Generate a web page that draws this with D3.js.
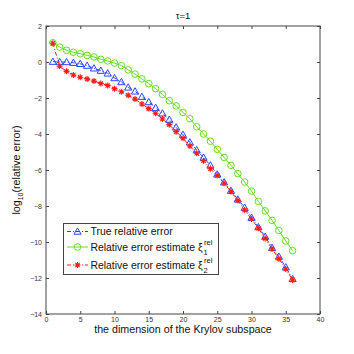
<!DOCTYPE html>
<html><head><meta charset="utf-8">
<script src="https://cdn.jsdelivr.net/npm/d3@7"></script>
<style>body{margin:0;background:#fff}svg{display:block}text{font-family:"Liberation Sans",Arial,sans-serif}</style>
</head><body>
<svg id="c" width="354" height="354"></svg>
<script>
const dims = d3.range(1, 37);
const trueErr = [0.02,0.0,0.0,-0.04,-0.1,-0.2,-0.35,-0.48,-0.63,-0.89,-1.11,-1.41,-1.63,-1.93,-2.22,-2.54,-2.85,-3.2,-3.63,-4.04,-4.46,-4.89,-5.31,-5.74,-6.24,-6.68,-7.15,-7.63,-8.09,-8.65,-9.17,-9.7,-10.32,-10.81,-11.4,-12.05];
const est1 = [1.07,0.83,0.65,0.54,0.46,0.37,0.28,0.15,0.06,-0.06,-0.2,-0.44,-0.67,-0.94,-1.2,-1.48,-1.8,-2.15,-2.44,-2.8,-3.15,-3.6,-4.0,-4.4,-4.85,-5.3,-5.74,-6.2,-6.67,-7.17,-7.74,-8.27,-8.8,-9.36,-9.94,-10.48];
const est2 = [1.04,-0.24,-0.52,-0.72,-0.85,-0.94,-1.06,-1.19,-1.3,-1.48,-1.65,-1.85,-2.06,-2.33,-2.59,-2.85,-3.17,-3.48,-3.87,-4.24,-4.67,-5.07,-5.48,-5.93,-6.31,-6.74,-7.2,-7.7,-8.22,-8.72,-9.24,-9.8,-10.39,-10.93,-11.5,-12.11];
const xTicks = [0,5,10,15,20,25,30,35,40];
const yTicks = [2,0,-2,-4,-6,-8,-10,-12,-14];
const labels = ["True relative error","Relative error estimate ξ","Relative error estimate ξ"];
const subs = [null,"1","2"];

const svg = d3.select("#c");
const L=46,R=320,T=26,B=314;
const x = d3.scaleLinear().domain([0,40]).range([L,R]);
const y = d3.scaleLinear().domain([-14,2]).range([B,T]);
const axc="#444";
const blue="#2a45ff", green="#66dd22", red="#ff1a1a";

svg.append("rect").attr("x",L).attr("y",T).attr("width",R-L).attr("height",B-T)
  .attr("fill","none").attr("stroke",axc).attr("stroke-width",1);

const tl=3;
const gx=svg.append("g").attr("transform",`translate(0,${B})`)
  .call(d3.axisBottom(x).tickValues(xTicks).tickSizeInner(-tl).tickSizeOuter(0).tickPadding(4));
const gxt=svg.append("g").attr("transform",`translate(0,${T})`)
  .call(d3.axisTop(x).tickValues(xTicks).tickSizeInner(-tl).tickSizeOuter(0).tickFormat(""));
const gy=svg.append("g").attr("transform",`translate(${L},0)`)
  .call(d3.axisLeft(y).tickValues(yTicks).tickSizeInner(-tl).tickSizeOuter(0).tickPadding(4).tickFormat(d=>d<0?"\u2212"+(-d):d));
const gyr=svg.append("g").attr("transform",`translate(${R},0)`)
  .call(d3.axisRight(y).tickValues(yTicks).tickSizeInner(-tl).tickSizeOuter(0).tickFormat(""));
[gx,gxt,gy,gyr].forEach(g=>{
  g.select(".domain").remove();
  g.selectAll("line").attr("stroke",axc);
  g.selectAll("text").attr("fill","#333").style("font-size","7px");
});
gx.selectAll("text").attr("dy","0.5em");

svg.append("text").attr("x",(L+R)/2).attr("y",19).attr("text-anchor","middle")
  .style("font-size","9.5px").attr("fill","#111").text("τ=1");
svg.append("text").attr("x",(L+R)/2).attr("y",333).attr("text-anchor","middle")
  .style("font-size","10.7px").attr("fill","#111").text("the dimension of the Krylov subspace");
const yl=svg.append("text").attr("transform",`translate(20,${(T+B)/2}) rotate(-90)`).attr("text-anchor","middle")
  .style("font-size","10.7px").attr("fill","#111");
yl.append("tspan").text("log");
yl.append("tspan").attr("dy",3).style("font-size","7px").text("10");
yl.append("tspan").attr("dy",-3).text("(relative error)");

const line=d3.line().x((d,i)=>x(dims[i])).y(d=>y(d));
const plotG=svg.append("g");

function triangle(g,cx,cy,col){
  const s=3.6;
  g.append("path").attr("d",`M${cx},${cy-s}L${cx+s},${cy+s*0.75}L${cx-s},${cy+s*0.75}Z`)
   .attr("fill","none").attr("stroke",col).attr("stroke-width",1);
}
function circle(g,cx,cy,col){
  g.append("circle").attr("cx",cx).attr("cy",cy).attr("r",3.3).attr("fill","none").attr("stroke",col).attr("stroke-width",1);
}
function star(g,cx,cy,col){
  const s=3;
  let d="";
  for(let k=0;k<4;k++){const a=k*Math.PI/4;d+=`M${cx-s*Math.cos(a)},${cy-s*Math.sin(a)}L${cx+s*Math.cos(a)},${cy+s*Math.sin(a)}`;}
  g.append("path").attr("d",d).attr("stroke",col).attr("stroke-width",1.1);
}

const series=[
  {data:trueErr,col:blue,dash:"4,2,1,2",mark:triangle},
  {data:est1,col:green,dash:null,mark:circle},
  {data:est2,col:red,dash:"4,2,1,2",mark:star}
];
series.forEach(s=>{
  plotG.append("path").datum(s.data).attr("d",line).attr("fill","none").attr("stroke",s.col)
    .attr("stroke-width",1).attr("stroke-dasharray",s.dash);
});
[series[1],series[0],series[2]].forEach(s=>{
  const g=plotG.append("g");
  s.data.forEach((v,i)=>s.mark(g,x(dims[i]),y(v),s.col));
});

const lg=svg.append("g");
lg.append("rect").attr("x",63.5).attr("y",223.5).attr("width",155).attr("height",51)
  .attr("fill","#fff").attr("stroke",axc).attr("stroke-width",1);
const ly=[231.5,247,265];
series.forEach((s,i)=>{
  lg.append("line").attr("x1",67).attr("x2",88).attr("y1",ly[i]).attr("y2",ly[i])
    .attr("stroke",s.col).attr("stroke-width",1).attr("stroke-dasharray",s.dash);
  s.mark(lg,77.5,ly[i],s.col);
  const t=lg.append("text").attr("x",90.5).attr("y",ly[i]+3.7).style("font-size","10.4px").attr("fill","#111");
  t.append("tspan").text(labels[i]);
  if(subs[i]){
    const bx=t.node().getComputedTextLength()+90.5;
    lg.append("text").attr("x",bx+1.5).attr("y",ly[i]-2.5).style("font-size","7.5px").attr("fill","#111").text("rel");
    lg.append("text").attr("x",bx+1).attr("y",ly[i]+7.5).style("font-size","7.5px").attr("fill","#111").text(subs[i]);
  }
});
</script>
</body></html>
